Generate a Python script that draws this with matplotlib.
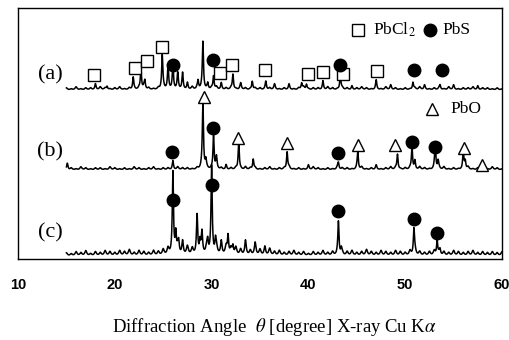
#!/usr/bin/env python3
"""XRD patterns (a)-(c): PbCl2 / PbS / PbO peaks, stacked traces."""
import numpy as np
import matplotlib
matplotlib.use("Agg")
import matplotlib.pyplot as plt

plt.rcParams.update({
    "font.family": "Liberation Serif",
    "mathtext.fontset": "stix",
})

# ------------------------------------------------------------------ data
# peaks: (2theta [deg], intensity [a.u.])
peaks_a = [(18.0, 5), (19.2, 3), (21.9, 12), (22.7, 20), (23.1, 8), (24.9, 33),
           (25.5, 22), (26.0, 23), (26.5, 14), (27.0, 15), (27.5, 6), (28.6, 8),
           (29.1, 47), (29.6, 6), (30.2, 13), (31.0, 6), (32.2, 15), (33.0, 4),
           (34.2, 8), (35.6, 8), (36.5, 3), (38.0, 4), (39.3, 6), (39.8, 5),
           (41.5, 8), (43.3, 15), (44.5, 3), (47.0, 8), (48.5, 3), (50.8, 7),
           (52.0, 3), (53.6, 4), (55.0, 3), (57.5, 3)]
peaks_b = [(15.1, 6), (26.0, 8), (29.1, 66), (29.4, 8), (30.2, 33), (30.5, 10),
           (31.5, 4), (32.8, 27), (34.3, 10), (37.8, 17), (40.0, 3), (43.1, 6),
           (45.1, 17), (47.0, 3), (49.2, 15), (50.7, 22), (51.0, 8), (53.1, 25),
           (53.4, 8), (56.0, 17), (56.2, 8), (58.0, 6)]
peaks_c = [(26.0, 78), (26.3, 20), (26.6, 10), (27.0, 8), (28.5, 34), (28.8, 12),
           (29.0, 15), (29.6, 10), (30.0, 82), (30.4, 12), (31.0, 8), (31.7, 18),
           (32.2, 8), (33.5, 8), (34.5, 5), (35.5, 4), (43.1, 33), (43.4, 6),
           (50.9, 24), (53.3, 14), (53.6, 5)]

# background wiggle, one value every 0.5 deg from 15 to 60
bg_start, bg_step = 15.0, 0.5
bg_a = [2, 1, 3, 1, 2, 2, 1, 3, 2, 1, 2, 3, 1, 2, 1, 2, 3, 2, 1, 2,
        3, 2, 2, 3, 2, 1, 3, 2, 2, 1, 2, 3, 1, 2, 2, 1, 3, 2, 1, 2,
        2, 1, 2, 3, 1, 2, 2, 1, 2, 3, 1, 2, 2, 1, 3, 2, 1, 2, 2, 1,
        2, 3, 2, 1, 2, 1, 3, 2, 2, 1, 2, 1, 2, 3, 2, 1, 2, 2, 1, 3,
        2, 1, 2, 2, 3, 1, 2, 2, 1, 2, 1]
bg_b = [1, 2, 1, 3, 2, 1, 2, 2, 1, 3, 2, 1, 2, 1, 3, 2, 1, 2, 3, 1,
        2, 2, 1, 3, 2, 2, 1, 2, 3, 2, 1, 3, 2, 1, 2, 2, 1, 3, 2, 2,
        1, 2, 3, 1, 2, 2, 3, 1, 2, 1, 2, 3, 2, 1, 2, 1, 3, 2, 2, 1,
        2, 3, 1, 2, 2, 1, 2, 3, 2, 1, 2, 2, 1, 3, 2, 1, 2, 2, 3, 1,
        2, 1, 2, 3, 1, 2, 2, 1, 3, 2, 1]
bg_c = [3, 2, 4, 3, 5, 2, 4, 3, 5, 4, 3, 5, 4, 6, 3, 5, 4, 3, 5, 4,
        6, 7, 5, 8, 6, 9, 7, 6, 8, 9, 7, 8, 6, 9, 7, 8, 6, 7, 5, 8,
        6, 5, 7, 4, 5, 3, 4, 5, 3, 4, 2, 4, 3, 5, 3, 4, 2, 3, 4, 5,
        3, 4, 6, 4, 3, 5, 4, 3, 5, 4, 3, 5, 6, 4, 3, 4, 5, 3, 4, 3,
        5, 4, 3, 4, 5, 3, 4, 3, 4, 3, 4]

# phase markers: (2theta, height above the trace baseline)
sq_a = [(17.9, 15), (22.1, 22), (23.3, 29), (24.9, 43), (30.85, 17), (32.1, 25),
        (35.5, 20), (39.95, 16), (41.5, 18), (43.6, 16), (47.1, 19)]
ci_a = [(26.0, 25), (30.15, 30), (43.25, 25), (50.9, 20), (53.8, 20)]
tr_b = [(29.2, 73), (32.75, 32), (37.8, 27), (45.1, 25), (48.95, 25), (56.1, 22), (57.9, 5)]
ci_b = [(25.95, 18), (30.1, 42), (43.05, 17), (50.7, 28), (53.1, 23)]
ci_c = [(26.0, 56), (30.05, 71), (43.05, 45), (50.9, 37), (53.3, 23)]

labels = ["(a)", "(b)", "(c)"]
offsets = [169, 89, 3]
xticks = [10, 20, 30, 40, 50, 60]


def pattern(x, peaks, bg):
    y = np.zeros_like(x)
    for p, h in peaks:
        y += h / (1 + ((x - p) / 0.07) ** 2)
    for i, h in enumerate(bg):
        y += h / (1 + ((x - (bg_start + i * bg_step)) / 0.12) ** 2)
    return y


x = np.arange(15, 60.001, 0.02)
fig = plt.figure(figsize=(5.09, 3.40), dpi=100)
ax = fig.add_axes([18 / 509, 81 / 340, 484 / 509, 251 / 340])

for peaks, bg, off in zip([peaks_a, peaks_b, peaks_c], [bg_a, bg_b, bg_c], offsets):
    ax.plot(x, off + pattern(x, peaks, bg), color="black", lw=1.1)

mk = dict(linestyle="none", markeredgecolor="black", markeredgewidth=1.0, zorder=5)
ax.plot([p for p, _ in sq_a], [offsets[0] + h for _, h in sq_a], marker="s",
        markersize=8.5, markerfacecolor="white", **mk)
for pts, off in [(ci_a, offsets[0]), (ci_b, offsets[1]), (ci_c, offsets[2])]:
    ax.plot([p for p, _ in pts], [off + h for _, h in pts], marker="o",
            markersize=9, markerfacecolor="black", **mk)
ax.plot([p for p, _ in tr_b], [offsets[1] + h for _, h in tr_b], marker="^",
        markersize=9, markerfacecolor="white", **mk)

# legend entries
ax.plot([0.702], [0.912], transform=ax.transAxes, marker="s", markersize=8.5,
        markerfacecolor="white", clip_on=False, **mk)
ax.text(0.733, 0.912, "PbCl$_2$", transform=ax.transAxes, fontsize=12.5, va="center")
ax.plot([0.851], [0.912], transform=ax.transAxes, marker="o", markersize=9,
        markerfacecolor="black", clip_on=False, **mk)
ax.text(0.878, 0.912, "PbS", transform=ax.transAxes, fontsize=12.5, va="center")
ax.plot([0.855], [0.598], transform=ax.transAxes, marker="^", markersize=9,
        markerfacecolor="white", clip_on=False, **mk)
ax.text(0.893, 0.598, "PbO", transform=ax.transAxes, fontsize=12.5, va="center")

for lab, yy in zip(labels, [0.733, 0.426, 0.104]):
    ax.text(0.066, yy, lab, transform=ax.transAxes, fontsize=16, ha="center", va="center")

ax.set_xlim(10, 60)
ax.set_ylim(0, 251)
ax.set_xticks(xticks)
ax.set_xticklabels([str(t) for t in xticks], family="Liberation Sans",
                   fontsize=10.5, fontweight="bold")
ax.tick_params(axis="x", length=0, pad=14)
ax.set_yticks([])
for s in ax.spines.values():
    s.set_linewidth(1.0)

fig.text(0.539, 0.038, r"Diffraction Angle  $\theta$ [degree] X-ray Cu K$\alpha$",
         fontsize=13.5, ha="center", va="center")

fig.savefig("out.png", dpi=100)
